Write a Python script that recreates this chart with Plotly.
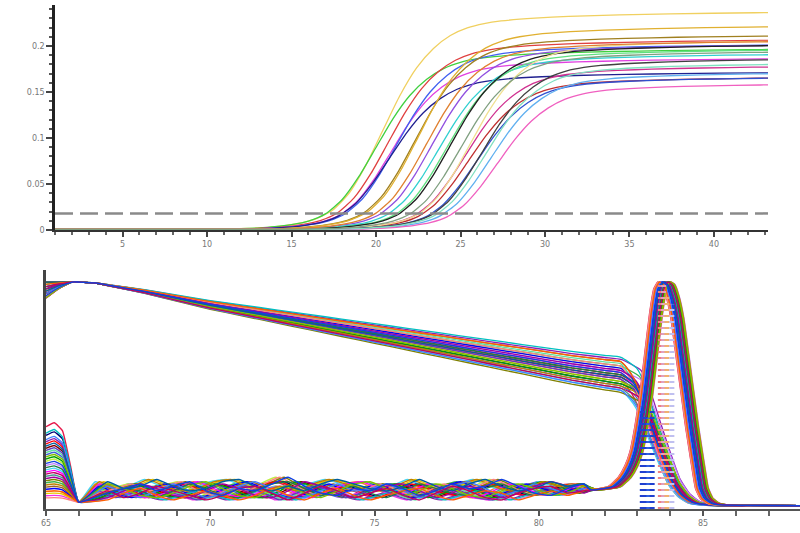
import numpy as np
import plotly.graph_objects as go

# ---------------- Amplification plot (top) ----------------
CYCLE_RANGE = [1.0, 43.2]
AMP_Y_RANGE = [0.0, 0.2446]
THRESHOLD = 0.018

# normalised amplification shape (fraction of plateau) vs cycles relative to Ct
AMP_REL_CYCLE = [-25, -8, -6, -5, -4, -3, -2, -1, 0, 1, 2, 3, 4, 5, 6, 7, 8, 9, 10, 12, 14, 17, 20, 25, 30]
AMP_SHAPE = [0.004, 0.004, 0.005, 0.007, 0.011, 0.018, 0.03, 0.05, 0.09, 0.17, 0.30, 0.46, 0.62,
             0.75, 0.84, 0.90, 0.935, 0.955, 0.967, 0.98, 0.988, 0.995, 1.0, 1.005, 1.01]

AMP_CT = [17.4, 17.0, 17.7, 17.9, 18.2, 17.8, 19.3, 19.5, 20.3, 20.7, 21.2, 21.4, 22.3, 22.5,
          22.6, 23.0, 23.3, 23.8, 24.2, 23.5, 20.0, 22.0]
AMP_PLATEAU = [0.235, 0.195, 0.205, 0.185, 0.200, 0.170, 0.210, 0.220, 0.200, 0.190, 0.195, 0.200,
               0.177, 0.165, 0.205, 0.165, 0.185, 0.170, 0.158, 0.180, 0.204, 0.193]
AMP_COLORS = ['#f0d060', '#40d040', '#e04040', '#e040e0', '#4060f0', '#202090', '#a08020', '#e0b030',
              '#9050e0', '#30d0d0', '#60e080', '#202020', '#d03090', '#c03030', '#f0e090', '#3050d0',
              '#404040', '#60b0f0', '#f060c0', '#80e0c0', '#e08030', '#80a080']

# ---------------- Melt plot (bottom) ----------------
MELT_X_RANGE = [65.0, 87.95]
MELT_Y_RANGE = [0.0, 1.053]

RAW_START_T = [65.0, 65.4, 65.8]
RAW_START_SHAPE = [0.0, 0.6, 1.0]
RAW_LIN_T = [66.0, 66.5, 67, 68, 69, 70, 71, 72, 73, 74, 75, 76, 77, 78, 79, 80, 81, 82, 82.5]
RAW_LIN_F = [0, 0.01, 0.04, 0.10, 0.17, 0.24, 0.30, 0.36, 0.42, 0.48, 0.54, 0.60, 0.66, 0.72,
             0.78, 0.84, 0.90, 0.95, 0.975]
RAW_DROP_T = [82.9, 83.1, 83.3, 83.5, 83.8, 84.1, 84.4, 84.7, 85.2, 86.0, 88.0]
RAW_DROP_FRAC = [0.93, 0.85, 0.72, 0.58, 0.38, 0.20, 0.10, 0.05, 0.03, 0.026, 0.022]
RAW_DROP_REF = 83.8

SPIKE_T = [65.0, 65.25, 65.5, 65.75, 66.0]
SPIKE_SHAPE = [0.95, 1.0, 0.9, 0.45, 0.0]
SPIKE_BASE = 0.03

BASE_T = [66.5, 67.0, 67.5, 68.0, 68.5, 69.0, 69.5, 70.0, 70.5, 71.0, 71.5, 72.0, 72.5, 73.0, 73.5,
          74.0, 74.5, 75.0, 75.5, 76.0, 76.5, 77.0, 77.5, 78.0, 78.5, 79.0, 79.5, 80.0, 80.5, 81.0]
NOISE = [
    [0.07, 0.09, 0.08, 0.05, 0.08, 0.11, 0.09, 0.06, 0.05, 0.08, 0.11, 0.12, 0.09, 0.06, 0.08, 0.10, 0.07, 0.05, 0.08, 0.11, 0.09, 0.07, 0.06, 0.09, 0.11, 0.08, 0.06, 0.08, 0.10, 0.11],
    [0.10, 0.07, 0.05, 0.08, 0.11, 0.08, 0.05, 0.07, 0.10, 0.12, 0.09, 0.06, 0.05, 0.08, 0.11, 0.08, 0.09, 0.11, 0.08, 0.05, 0.07, 0.10, 0.12, 0.09, 0.06, 0.08, 0.11, 0.09, 0.07, 0.09],
    [0.05, 0.08, 0.11, 0.09, 0.06, 0.05, 0.08, 0.11, 0.09, 0.06, 0.05, 0.08, 0.12, 0.10, 0.07, 0.05, 0.07, 0.10, 0.11, 0.08, 0.05, 0.07, 0.10, 0.08, 0.05, 0.07, 0.10, 0.12, 0.10, 0.07],
    [0.11, 0.09, 0.06, 0.05, 0.07, 0.10, 0.12, 0.09, 0.06, 0.05, 0.08, 0.10, 0.07, 0.05, 0.08, 0.11, 0.12, 0.09, 0.06, 0.08, 0.11, 0.09, 0.06, 0.05, 0.08, 0.11, 0.09, 0.06, 0.07, 0.10],
    [0.04, 0.07, 0.09, 0.06, 0.04, 0.06, 0.08, 0.06, 0.04, 0.06, 0.09, 0.06, 0.04, 0.07, 0.09, 0.06, 0.04, 0.06, 0.08, 0.09, 0.06, 0.04, 0.06, 0.08, 0.07, 0.04, 0.06, 0.08, 0.06, 0.08],
    [0.12, 0.09, 0.10, 0.13, 0.10, 0.08, 0.09, 0.12, 0.13, 0.10, 0.08, 0.10, 0.08, 0.11, 0.13, 0.11, 0.09, 0.08, 0.10, 0.13, 0.10, 0.08, 0.11, 0.13, 0.10, 0.08, 0.09, 0.12, 0.10, 0.11],
    [0.08, 0.05, 0.07, 0.10, 0.08, 0.06, 0.04, 0.06, 0.09, 0.10, 0.07, 0.04, 0.07, 0.10, 0.08, 0.05, 0.07, 0.09, 0.06, 0.04, 0.07, 0.10, 0.08, 0.05, 0.04, 0.07, 0.09, 0.10, 0.07, 0.08],
    [0.07, 0.09, 0.11, 0.08, 0.10, 0.12, 0.08, 0.06, 0.09, 0.08, 0.11, 0.14, 0.10, 0.07, 0.06, 0.09, 0.08, 0.11, 0.09, 0.06, 0.08, 0.11, 0.09, 0.10, 0.13, 0.10, 0.07, 0.06, 0.09, 0.11],
]
NOISE_PHASE = [0.0, 0.25, 0.12, 0.37]

DERIV_D = [-2.2, -1.8, -1.5, -1.2, -1.0, -0.85, -0.7, -0.55, -0.4, -0.25, -0.12, 0, 0.12, 0.25,
           0.4, 0.55, 0.7, 0.85, 1.0, 1.15, 1.3, 1.5, 1.8, 2.5, 4.5]
DERIV_V = [0.085, 0.09, 0.10, 0.14, 0.19, 0.25, 0.36, 0.50, 0.68, 0.86, 0.97, 1.0, 0.99, 0.94,
           0.84, 0.68, 0.52, 0.36, 0.22, 0.09, 0.045, 0.025, 0.018, 0.016, 0.014]

RAW_START = [0.93, 0.98, 0.95, 1.0, 0.96, 0.94, 0.99, 0.97, 0.95, 1.0, 0.93, 0.98, 0.96, 0.99, 0.94, 0.97,
             0.95, 1.0, 0.97, 0.93, 0.99, 0.96, 0.98, 0.94, 1.0, 0.95, 0.97, 0.93, 0.99, 0.96, 0.98, 0.94]
RAW_DROP = [0.44, 0.38, 0.47, 0.41, 0.35, 0.49, 0.43, 0.39, 0.46, 0.36, 0.42, 0.48, 0.40, 0.45, 0.37, 0.50,
            0.43, 0.39, 0.46, 0.41, 0.34, 0.47, 0.44, 0.38, 0.42, 0.49, 0.40, 0.45, 0.36, 0.43, 0.48, 0.41]
MELT_TM = [83.62, 83.95, 83.80, 83.70, 84.00, 83.66, 83.88, 83.75, 83.98, 83.68, 83.85, 83.72, 84.02, 83.78,
           83.64, 83.92, 83.82, 83.74, 83.96, 83.69, 83.87, 84.01, 83.77, 83.63, 83.90, 83.71, 83.84, 83.99,
           83.67, 83.80, 83.93, 83.76]
SPIKE_LEVEL = [0.38, 0.12, 0.25, 0.08, 0.31, 0.18, 0.06, 0.22, 0.34, 0.10, 0.28, 0.15, 0.20, 0.07, 0.26, 0.13,
               0.30, 0.09, 0.23, 0.17, 0.35, 0.11, 0.27, 0.05, 0.19, 0.32, 0.14, 0.24, 0.08, 0.29, 0.16, 0.21]
MELT_COLORS = ['#e6194b', '#3cb44b', '#4363d8', '#f58231', '#911eb4', '#42d4f4', '#f032e6', '#bfef45',
               '#000075', '#9a6324', '#800000', '#469990', '#c080ff', '#e8c800', '#60e0a0', '#808000',
               '#ff0000', '#0000ff', '#00a000', '#ff00ff', '#00c0c0', '#c08000', '#6040c0', '#ff8080',
               '#208040', '#4080ff', '#a000a0', '#80c000', '#ff6000', '#0060a0', '#c00060', '#1040e0']

TM_MARK_X = [83.15, 83.25, 83.35, 83.45, 83.70, 83.80, 83.90, 84.05]
TM_MARK_H = [0.45, 0.42, 0.40, 0.44, 1.0, 1.0, 0.95, 0.9]
TM_MARK_COLORS = ['#2040d0', '#2040d0', '#3060e0', '#2040d0', '#f08080', '#e0a0c0', '#f0b070', '#c0c0f0']

fig = go.Figure()

# amplification curves
for ct, p, c in zip(AMP_CT, AMP_PLATEAU, AMP_COLORS):
    fig.add_trace(go.Scatter(
        x=np.array(AMP_REL_CYCLE) + ct, y=np.array(AMP_SHAPE) * p,
        mode='lines', line=dict(color=c, width=1.3, shape='spline', smoothing=0.6),
        xaxis='x', yaxis='y', showlegend=False, hoverinfo='skip'))

fig.add_trace(go.Scatter(
    x=CYCLE_RANGE, y=[THRESHOLD, THRESHOLD], mode='lines',
    line=dict(color='#8a8a8a', width=2.5, dash='18px,7px'),
    xaxis='x', yaxis='y', showlegend=False, hoverinfo='skip'))

# raw melt curves
for i in range(len(MELT_TM)):
    s = RAW_START[i]
    d = RAW_DROP[i]
    shift = MELT_TM[i] - RAW_DROP_REF
    lin = [1 - d * f for f in RAW_LIN_F]
    x = list(RAW_START_T) + list(RAW_LIN_T) + [t + shift for t in RAW_DROP_T]
    y = [s + (1 - s) * f for f in RAW_START_SHAPE] + lin + [lin[-1] * f for f in RAW_DROP_FRAC]
    fig.add_trace(go.Scatter(
        x=x, y=y, mode='lines', line=dict(color=MELT_COLORS[i], width=1.3, shape='spline', smoothing=0.5),
        xaxis='x2', yaxis='y2', showlegend=False, hoverinfo='skip'))

# derivative melt curves
for i in range(len(MELT_TM)):
    lvl = SPIKE_LEVEL[i]
    noise = NOISE[i % len(NOISE)]
    ph = NOISE_PHASE[i // len(NOISE)]
    x = list(SPIKE_T) + [t + ph for t in BASE_T] + [MELT_TM[i] + dd for dd in DERIV_D]
    y = [SPIKE_BASE + (lvl - SPIKE_BASE) * f for f in SPIKE_SHAPE] + list(noise) + list(DERIV_V)
    fig.add_trace(go.Scatter(
        x=x, y=y, mode='lines', line=dict(color=MELT_COLORS[i], width=1.4, shape='spline', smoothing=0.4),
        xaxis='x2', yaxis='y2', showlegend=False, hoverinfo='skip'))

# Tm markers
for xm, h, c in zip(TM_MARK_X, TM_MARK_H, TM_MARK_COLORS):
    fig.add_trace(go.Scatter(
        x=[xm, xm], y=[0, h], mode='lines', line=dict(color=c, width=5, dash='2px,4px'),
        xaxis='x2', yaxis='y2', showlegend=False, hoverinfo='skip'))

W, H = 800, 533
tickfont = dict(family='DejaVu Sans', size=8, color='#777777')

fig.update_layout(
    width=W, height=H, margin=dict(l=0, r=0, t=0, b=0, autoexpand=False),
    paper_bgcolor='white', plot_bgcolor='white', showlegend=False,
    xaxis=dict(domain=[55 / W, 768 / W], range=CYCLE_RANGE, anchor='y', automargin=False,
               showgrid=False, zeroline=False, showline=True, linecolor='#333', linewidth=2,
               ticks='outside', ticklen=5, tickwidth=1.5, tickcolor='#444', dtick=5, tick0=0,
               minor=dict(dtick=1, ticks='outside', ticklen=3, tickcolor='#666'),
               tickfont=tickfont),
    yaxis=dict(domain=[(H - 230) / H, (H - 5) / H], range=AMP_Y_RANGE, anchor='x', automargin=False,
               showgrid=False, zeroline=False, showline=True, linecolor='#222', linewidth=2.5,
               ticks='outside', ticklen=6, tickwidth=1.5, tickcolor='#444', dtick=0.05, tick0=0,
               minor=dict(dtick=0.01, ticks='outside', ticklen=3, tickcolor='#555'),
               tickfont=tickfont),
    xaxis2=dict(domain=[46 / W, 1.0], range=MELT_X_RANGE, anchor='y2', automargin=False,
                showgrid=False, zeroline=False, showline=True, linecolor='#555', linewidth=2,
                ticks='outside', ticklen=5, tickwidth=1.5, tickcolor='#555', dtick=5, tick0=0,
                minor=dict(dtick=1, ticks='outside', ticklen=5, tickcolor='#666'),
                tickfont=tickfont),
    yaxis2=dict(domain=[(H - 509) / H, (H - 270) / H], range=MELT_Y_RANGE, anchor='x2', automargin=False,
                showgrid=False, zeroline=False, showline=True, linecolor='#444', linewidth=3,
                showticklabels=False, ticks=''),
)

fig.write_html('out.html', config={'displayModeBar': False},
               post_script="document.body.style.margin='0';document.body.style.overflow='hidden';")
